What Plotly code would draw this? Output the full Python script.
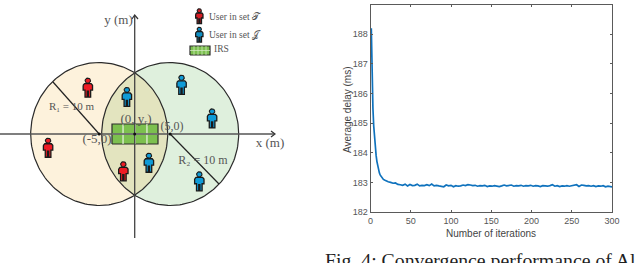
import numpy as np
import plotly.graph_objects as go

W, H = 640, 263

# ---- convergence chart data
iterations = [1,2,3,4,5,6,7,8,9,10,11,12,13,14,15,16,18,20,22,25,28,31,34,37,40,43,46,49,52,55,58,61,64,67,70,73,76,79,
              82,85,88,91,94,97,100,103,106,109,112,115,118,121,124,127,130,133,136,139,142,145,148,151,154,157,160,163,
              166,169,172,175,178,181,184,187,190,193,196,199,202,205,208,211,214,217,220,223,226,229,232,235,238,241,
              244,247,250,253,256,259,262,265,268,271,274,277,280,283,286,289,292,295,298,300]
delay_ms = [188.2,186.6,185.5,184.9,184.5,184.15,183.9,183.7,183.55,183.42,183.32,183.25,183.2,183.16,183.13,183.1,183.07,183.04,183.02,
            183.0,182.97,182.98,182.93,182.92,182.9,182.94,182.88,182.93,182.89,182.9,182.94,182.88,182.9,182.89,182.92,182.89,182.94,182.88,
            182.9,182.88,182.87,182.85,182.91,182.88,182.9,182.85,182.89,182.87,182.88,182.91,182.89,182.92,182.91,182.89,182.9,182.87,182.89,182.88,
            182.9,182.86,182.88,182.87,182.89,182.88,182.86,182.88,182.91,182.88,182.9,182.91,182.87,182.89,182.88,182.9,182.87,182.89,182.88,182.9,
            182.87,182.89,182.88,182.86,182.89,182.88,182.87,182.89,182.92,182.87,182.89,182.86,182.88,182.87,182.89,182.87,182.88,182.89,182.92,
            182.86,182.91,182.9,182.88,182.89,182.87,182.89,182.86,182.88,182.87,182.89,182.85,182.87,182.86,182.85]
x_ticks = [0,50,100,150,200,250,300]
y_ticks = [182,183,184,185,186,187,188,189]

# ---- system-model diagram data, in metres
circle_centres_x = [-5.0, 5.0]
radius_m = 10.0
red_users_x = [-6.6, -12.2, -1.6]
red_users_y = [6.5, -1.9, -5.2]
blue_users_x = [-1.1, 2.0, 6.6, 10.9, 9.1]
blue_users_y = [5.2, -4.0, 6.9, 2.2, -6.6]
legend_user_x = [9.1, 9.1]
legend_user_y = [16.5, 13.9]

# pixel scale of the diagram axis
PX_X, PX_Y, X0, Y0 = 7.1, 7.15, 134.7, 134.0
dx = lambda p: (p - X0) / PX_X
dy = lambda p: (Y0 - p) / PX_Y

fig = go.Figure()

def poly(xs, ys, fill, line=None, lw=1.0, close=True):
    fig.add_trace(go.Scatter(x=xs, y=ys, mode="lines", xaxis="x", yaxis="y",
                             fill="toself" if close else None, fillcolor=fill,
                             line=dict(color=line or "rgba(0,0,0,0)", width=lw if line else 0),
                             hoverinfo="skip", showlegend=False))

t = np.linspace(0, 2*np.pi, 181)
RX = 9.65  # picture is slightly narrower horizontally than tall
cl, cr = circle_centres_x
poly(cl + RX*np.cos(t), radius_m*np.sin(t), "#fdf2dc")
poly(cr + RX*np.cos(t), radius_m*np.sin(t), "#dff0dd")
# overlap of the two discs
ang = np.linspace(-1, 1, 81) * np.arccos(5/RX)
lx = np.concatenate([cl + RX*np.cos(ang), (cr - RX*np.cos(ang))[::-1]])
ly = np.concatenate([radius_m*np.sin(ang), (radius_m*np.sin(ang))[::-1]])
poly(lx, ly, "#e3e4bf")
poly(cl + RX*np.cos(t), radius_m*np.sin(t), "rgba(0,0,0,0)", "#2b2b2b", 1.2, close=False)
poly(cr + RX*np.cos(t), radius_m*np.sin(t), "rgba(0,0,0,0)", "#2b2b2b", 1.2, close=False)

# radius lines
poly([cl, dx(53)], [0, dy(82)], "rgba(0,0,0,0)", "#222222", 1.2, close=False)
poly([cr, dx(219)], [0, dy(184)], "rgba(0,0,0,0)", "#222222", 1.2, close=False)

# IRS panel
def irs(x0, x1, y0, y1, cols, lw):
    poly([x0, x1, x1, x0, x0], [y0, y0, y1, y1, y0], "#7cc04f", "#2c2c2c", lw)
    for c in cols:
        xc = x0 + c*(x1-x0)
        poly([xc, xc], [y0, y1], "rgba(0,0,0,0)", "#ffffff", 1.0, close=False)
    ym = (y0+y1)/2
    poly([x0, x1], [ym, ym], "rgba(0,0,0,0)", "#ffffff", 1.0, close=False)

irs(dx(112), dx(158), dy(144), dy(124), [0.24, 0.5, 0.76], 1.2)
poly([dx(190), dx(210), dx(210), dx(190), dx(190)], [dy(55), dy(55), dy(46), dy(46), dy(55)], "#7cc04f", "#2c2c2c", 1.2)
for f in [0.2, 0.4, 0.6, 0.8]:
    xc = dx(190 + 20*f)
    poly([xc, xc], [dy(55), dy(46)], "rgba(0,0,0,0)", "#d8eec8", 0.7, close=False)
poly([dx(190), dx(210)], [dy(50.5), dy(50.5)], "rgba(0,0,0,0)", "#d8eec8", 0.7, close=False)

# axes of the diagram
poly([dx(0), dx(274)], [0, 0], "rgba(0,0,0,0)", "#555555", 1.4, close=False)
poly([0, 0], [dy(238), dy(16)], "rgba(0,0,0,0)", "#444444", 1.3, close=False)
poly([dx(271), dx(275), dx(271)], [dy(131), 0, dy(137)], "rgba(0,0,0,0)", "#333333", 1.2, close=False)
poly([dx(132), 0, dx(138)], [dy(19), dy(15), dy(19)], "rgba(0,0,0,0)", "#333333", 1.2, close=False)
fig.add_trace(go.Scatter(x=[0, cl, cr], y=[0, 0, 0], mode="markers", xaxis="x", yaxis="y",
                         marker=dict(size=3, color="#111111"), hoverinfo="skip", showlegend=False))

# person icon, outline in black with coloured body
def person(cx, cy, colour, s=1.0):
    w, h = 0.66*s, 1.42*s
    body_x = np.array([-1,-1,-.6,-.6,-.12,-.12,.12,.12,.6,.6,1,1,.7,-.7,-1])*w
    body_y = np.array([.22,-.25,-.25,-.95,-.95,-.35,-.35,-.95,-.95,-.25,-.25,.22,.38,.38,.22])*h
    poly(cx + body_x, cy + body_y, colour, "#1a1a1a", 1.3)
    a = np.linspace(0, 2*np.pi, 25)
    poly(cx + 0.27*h*np.cos(a), cy + 0.68*h + 0.25*h*np.sin(a), colour, "#1a1a1a", 1.1)

for ux, uy in zip(red_users_x, red_users_y):
    person(ux, uy, "#ee1c25")
for ux, uy in zip(blue_users_x, blue_users_y):
    person(ux, uy, "#0f9bd7")
person(legend_user_x[0], legend_user_y[0], "#d81e26", 0.78)
person(legend_user_x[1], legend_user_y[1], "#0f8fc4", 0.78)

# diagram texts
SERIF = "Liberation Serif"
def label(px, py, text, size, colour="#555555", anchor="middle center", font=SERIF):
    fig.add_trace(go.Scatter(x=[dx(px)], y=[dy(py)], mode="text", text=[text], textposition=anchor,
                             xaxis="x", yaxis="y", cliponaxis=False,
                             textfont=dict(family=font, size=size, color=colour),
                             hoverinfo="skip", showlegend=False))

label(118.5, 21, "y (m)", 13)
label(71.5, 107, "R₁ = 10 m", 11)
label(136, 120, "(0, yᵣ)", 13)
label(97, 140, "(-5,0)", 13)
label(172, 127, "(5,0)", 12)
label(270, 144, "x (m)", 13)
label(203, 161, "R₂ = 10 m", 12)
label(209, 18, "User in set 𝒯", 9.5, anchor="middle right")
label(209, 36, "User in set 𝒥", 9.5, anchor="middle right")
label(214, 50, "IRS", 9.5, anchor="middle right")
label(325, 262, "Fig. 4: Convergence performance of Al", 19.8, colour="#1f1f1f", anchor="middle right")

# convergence curve
fig.add_trace(go.Scatter(x=iterations, y=delay_ms, mode="lines", xaxis="x2", yaxis="y2",
                         line=dict(color="#0f72bd", width=1.7), hoverinfo="skip", showlegend=False))

SANS = "Liberation Sans"
axis_common = dict(showgrid=False, zeroline=False, showline=True, linecolor="#5a5a5a", linewidth=1,
                   mirror="ticks", ticks="inside", ticklen=2.5, tickcolor="#5a5a5a", tickwidth=1,
                   automargin=False,
                   tickfont=dict(family=SANS, size=9, color="#555555"))

fig.update_layout(
    width=W, height=H, autosize=False,
    margin=dict(l=0, r=0, t=0, b=0, pad=0),
    paper_bgcolor="white", plot_bgcolor="rgba(0,0,0,0)",
    showlegend=False,
    xaxis=dict(domain=[0, 1], range=[dx(0), dx(W)], visible=False, fixedrange=True, automargin=False),
    yaxis=dict(domain=[0, 1], range=[dy(H), dy(0)], visible=False, fixedrange=True, automargin=False),
    xaxis2=dict(domain=[370.5/W, 612/W], anchor="y2", range=[0, 300], tickvals=x_ticks, **axis_common),
    yaxis2=dict(domain=[1-212/H, 1-4.5/H], anchor="x2", range=[182, 189], tickvals=y_ticks, **axis_common),
    annotations=[
        dict(text="Number of iterations", xref="paper", yref="paper", x=491/W, y=1-234/H, showarrow=False,
             xanchor="center", yanchor="middle", font=dict(family=SANS, size=10, color="#444444")),
        dict(text="Average delay (ms)", xref="paper", yref="paper", x=347/W, y=1-110/H, showarrow=False,
             textangle=-90, xanchor="center", yanchor="middle", font=dict(family=SANS, size=10, color="#444444")),
    ],
)

fig.write_html("out.html", config=dict(displayModeBar=False),
               post_script="document.body.style.margin='0';document.body.style.overflow='hidden';")
